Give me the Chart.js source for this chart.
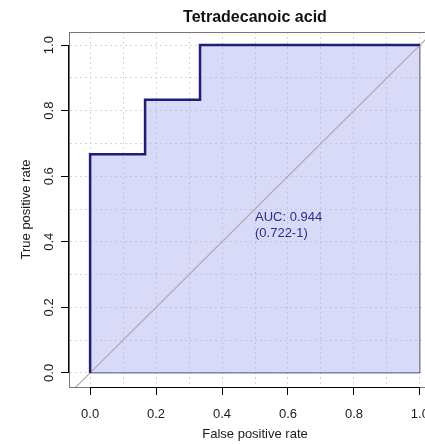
<!DOCTYPE html>
<html>
<head>
  <title>Tetradecanoic acid ROC</title>
  <script src="https://cdn.jsdelivr.net/npm/chart.js"></script>
  <style>
    html, body { margin: 0; padding: 0; overflow: hidden; background: #fff; }
    #wrap { width: 441px; height: 444px; }
  </style>
</head>
<body>
  <div id="wrap"><canvas id="rocChart" width="441" height="444"></canvas></div>

  <script>
    // ROC curve (step function)
    const fpr = [0, 0, 0.1667, 0.1667, 0.3333, 0.3333, 1];
    const tpr = [0, 0.6667, 0.6667, 0.8333, 0.8333, 1, 1];

    // chance diagonal and the outline of the AUC polygon
    const chanceX = [-0.1, 1.1];
    const chanceY = [-0.1, 1.1];
    const outlineX = [0, 1, 1];
    const outlineY = [0, 0, 1];

    const aucLines = ['AUC: 0.944', '(0.722-1)'];
    const aucPos = { x: 0.5, y: 0.45 };

    const xRange = [-0.064, 1.064];
    const yRange = [-0.043, 1.04];

    const toPoints = (xs, ys) => xs.map((x, i) => ({ x: x, y: ys[i] }));
    const isMajor = v => Math.round(v * 10) % 2 === 0;

    // box, black axis segments and the AUC text
    const rocExtras = {
      id: 'rocExtras',
      afterDatasetsDraw(chart) {
        const ctx = chart.ctx;
        const xs = chart.scales.x, ys = chart.scales.y;
        ctx.save();
        ctx.fillStyle = '#2e2e88';
        ctx.font = '13px "Liberation Sans", Arial, sans-serif';
        ctx.textAlign = 'left';
        ctx.textBaseline = 'middle';
        const px = xs.getPixelForValue(aucPos.x);
        const py = ys.getPixelForValue(aucPos.y);
        ctx.fillText(aucLines[0], px, py - 8);
        ctx.fillText(aucLines[1], px, py + 8);
        ctx.restore();
      },
      afterDraw(chart) {
        const ctx = chart.ctx;
        const a = chart.chartArea;
        const xs = chart.scales.x, ys = chart.scales.y;
        ctx.save();
        ctx.lineWidth = 1;
        ctx.strokeStyle = '#777';
        ctx.beginPath();
        ctx.moveTo(a.left, a.top + 0.5);
        ctx.lineTo(a.right, a.top + 0.5);
        ctx.moveTo(a.right - 0.5, a.top);
        ctx.lineTo(a.right - 0.5, a.bottom);
        ctx.stroke();
        ctx.strokeStyle = '#000';
        ctx.beginPath();
        ctx.moveTo(xs.getPixelForValue(0), a.bottom + 0.5);
        ctx.lineTo(xs.getPixelForValue(1), a.bottom + 0.5);
        ctx.moveTo(a.left - 0.5, ys.getPixelForValue(0));
        ctx.lineTo(a.left - 0.5, ys.getPixelForValue(1));
        ctx.stroke();
        ctx.restore();
      }
    };

    const tickFont = { family: '"Liberation Sans", Arial, sans-serif', size: 13 };

    new Chart(document.getElementById('rocChart'), {
      type: 'scatter',
      data: {
        datasets: [
          {
            label: 'ROC',
            data: toPoints(fpr, tpr),
            showLine: true,
            borderColor: '#1e1e78',
            borderWidth: 2.5,
            pointRadius: 0,
            fill: 'origin',
            backgroundColor: 'rgba(170,170,240,0.45)'
          },
          {
            label: 'chance',
            data: toPoints(chanceX, chanceY),
            showLine: true,
            borderColor: '#ababb4',
            borderWidth: 1.2,
            pointRadius: 0,
            fill: false
          },
          {
            label: 'outline',
            data: toPoints(outlineX, outlineY),
            showLine: true,
            borderColor: '#55557a',
            borderWidth: 1,
            pointRadius: 0,
            fill: false
          }
        ]
      },
      options: {
        responsive: false,
        animation: false,
        layout: { padding: 0 },
        plugins: {
          legend: { display: false },
          tooltip: { enabled: false },
          filler: { drawTime: 'beforeDatasetsDraw' },
          title: {
            display: true,
            fullSize: false,
            text: 'Tetradecanoic acid',
            color: '#111',
            font: { family: '"Liberation Sans", Arial, sans-serif', size: 16, weight: 'bold' },
            padding: { top: 8, bottom: 4.8 }
          }
        },
        scales: {
          x: {
            type: 'linear',
            min: xRange[0],
            max: xRange[1],
            afterFit(scale) { scale.height = 57; },
            ticks: {
              stepSize: 0.1,
              includeBounds: false,
              autoSkip: false,
              maxRotation: 0,
              padding: 12,
              color: '#1a1a1a',
              font: tickFont,
              callback: v => isMajor(v) ? v.toFixed(1) : ''
            },
            grid: {
              color: '#d6d6d6',
              lineWidth: 1,
              tickLength: 8,
              tickColor: c => (c.tick && isMajor(c.tick.value)) ? '#000' : 'rgba(0,0,0,0)',
              tickBorderDash: []
            },
            border: { color: '#777', width: 1, dash: [2, 3] },
            title: {
              display: true,
              text: 'False positive rate',
              color: '#1a1a1a',
              font: tickFont,
              padding: { top: 0, bottom: 2 }
            }
          },
          y: {
            type: 'linear',
            min: yRange[0],
            max: yRange[1],
            afterFit(scale) { scale.width = 69; },
            ticks: {
              stepSize: 0.1,
              includeBounds: false,
              autoSkip: false,
              minRotation: 90,
              maxRotation: 90,
              crossAlign: 'center',
              padding: 3,
              color: '#1a1a1a',
              font: tickFont,
              callback: v => isMajor(v) ? v.toFixed(1) : ''
            },
            grid: {
              color: '#d6d6d6',
              lineWidth: 1,
              tickLength: 8,
              tickColor: c => (c.tick && isMajor(c.tick.value)) ? '#000' : 'rgba(0,0,0,0)',
              tickBorderDash: []
            },
            border: { color: '#777', width: 1, dash: [2, 3] },
            title: {
              display: true,
              text: 'True positive rate',
              color: '#1a1a1a',
              font: tickFont,
              padding: { top: 19, bottom: 0 }
            }
          }
        }
      },
      plugins: [rocExtras]
    });
  </script>
</body>
</html>
